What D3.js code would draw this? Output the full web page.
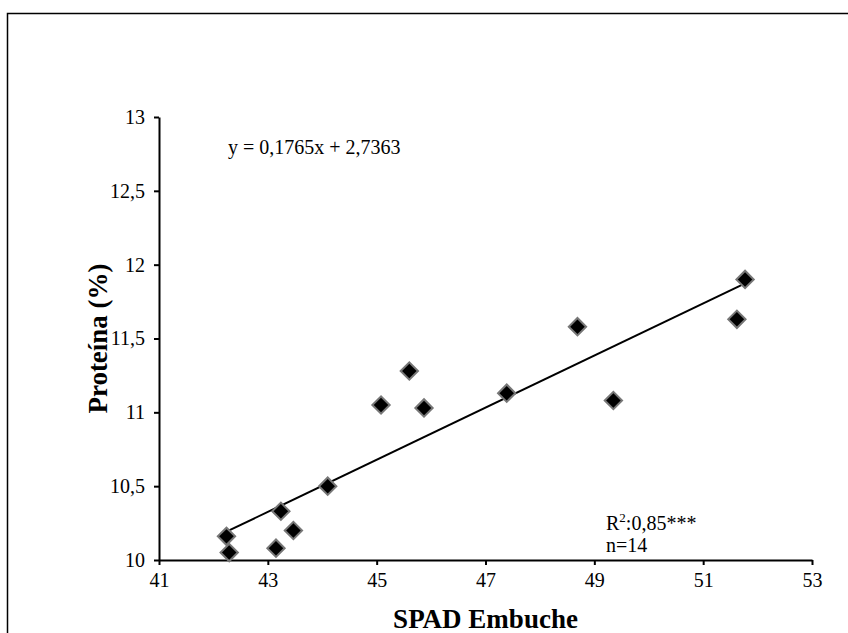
<!DOCTYPE html>
<html>
<head>
<meta charset="utf-8">
<script src="https://cdn.jsdelivr.net/npm/d3@7"></script>
<style>
  body { margin: 0; background: #fff; }
  svg { display: block; font-family: "Liberation Serif", "Times New Roman", serif; }
  svg text { font-family: "Liberation Serif", "Times New Roman", serif; }
</style>
</head>
<body>
<div id="chart-area"></div>
<script>
// Data
const spad = [42.24, 42.29, 43.15, 43.24, 43.47, 44.10, 45.08, 45.60, 45.87, 47.39, 48.69, 49.35, 51.62, 51.77];
const protein = [10.16, 10.05, 10.08, 10.33, 10.20, 10.50, 11.05, 11.28, 11.03, 11.13, 11.58, 11.08, 11.63, 11.90];
const xTicks = [41, 43, 45, 47, 49, 51, 53];
const yTicks = [10, 10.5, 11, 11.5, 12, 12.5, 13];
const slope = 0.1765, intercept = 2.7363;

const W = 848, H = 633;
const plot = { left: 159, right: 812, top: 117, bottom: 560 };

const svg = d3.select("#chart-area")
    .append("svg")
        .attr("width", W)
        .attr("height", H);

// outer frame (cut off at right and bottom)
svg.append("path")
    .attr("d", "M7.5," + H + "V13.5H" + W)
    .attr("fill", "none")
    .attr("stroke", "#000")
    .attr("stroke-width", 1.5);

const x = d3.scaleLinear().domain([41, 53]).range([plot.left, plot.right]);
const y = d3.scaleLinear().domain([10, 13]).range([plot.bottom, plot.top]);

const comma = d => String(d).replace(".", ",");

// axes
const xAxis = svg.append("g")
    .attr("transform", "translate(0," + plot.bottom + ")")
    .call(d3.axisBottom(x).tickValues(xTicks).tickSize(5).tickSizeOuter(0).tickPadding(8).tickFormat(comma));
const yAxis = svg.append("g")
    .attr("transform", "translate(" + plot.left + ",0)")
    .call(d3.axisLeft(y).tickValues(yTicks).tickSize(5).tickSizeOuter(0).tickPadding(9).tickFormat(comma));

[xAxis, yAxis].forEach(g => {
    g.attr("font-family", "Liberation Serif").attr("font-size", 20);
    g.select(".domain").attr("stroke-width", 2);
    g.selectAll(".tick line").attr("stroke-width", 2);
    g.selectAll(".tick text").attr("fill", "#000");
});

// trend line over the data range
const ext = d3.extent(spad);
svg.append("line")
    .attr("x1", x(ext[0])).attr("y1", y(slope * ext[0] + intercept))
    .attr("x2", x(ext[1])).attr("y2", y(slope * ext[1] + intercept))
    .attr("stroke", "#000")
    .attr("stroke-width", 2);

// diamonds
const diamond = d3.symbol().type(d3.symbolSquare).size(150);
svg.append("g").selectAll("path")
    .data(spad.map((d, i) => ({ x: d, y: protein[i] })))
    .enter().append("path")
        .attr("d", diamond)
        .attr("transform", d => "translate(" + x(d.x) + "," + y(d.y) + ") rotate(45)")
        .attr("fill", "#000")
        .attr("stroke", "#777")
        .attr("stroke-width", 2);

// equation
svg.append("text")
    .attr("x", 228)
    .attr("y", 154)
    .attr("font-size", "20px")
    .text("y = 0,1765x + 2,7363");

// R2 and n
const stats = svg.append("text")
    .attr("x", 606)
    .attr("y", 530)
    .attr("font-size", "20px");
stats.append("tspan").text("R");
stats.append("tspan").attr("font-size", "13px").attr("dy", -8).text("2");
stats.append("tspan").attr("dy", 8).text(":0,85***");
svg.append("text")
    .attr("x", 606)
    .attr("y", 552)
    .attr("font-size", "20px")
    .text("n=14");

// axis titles
svg.append("text")
    .attr("x", (plot.left + plot.right) / 2)
    .attr("y", 628)
    .attr("text-anchor", "middle")
    .attr("font-size", "27px")
    .attr("font-weight", "bold")
    .text("SPAD Embuche");

svg.append("text")
    .attr("transform", "translate(107," + (plot.top + plot.bottom) / 2 + ") rotate(-90)")
    .attr("text-anchor", "middle")
    .attr("font-size", "27px")
    .attr("font-weight", "bold")
    .text("Proteína (%)");
</script>
</body>
</html>
